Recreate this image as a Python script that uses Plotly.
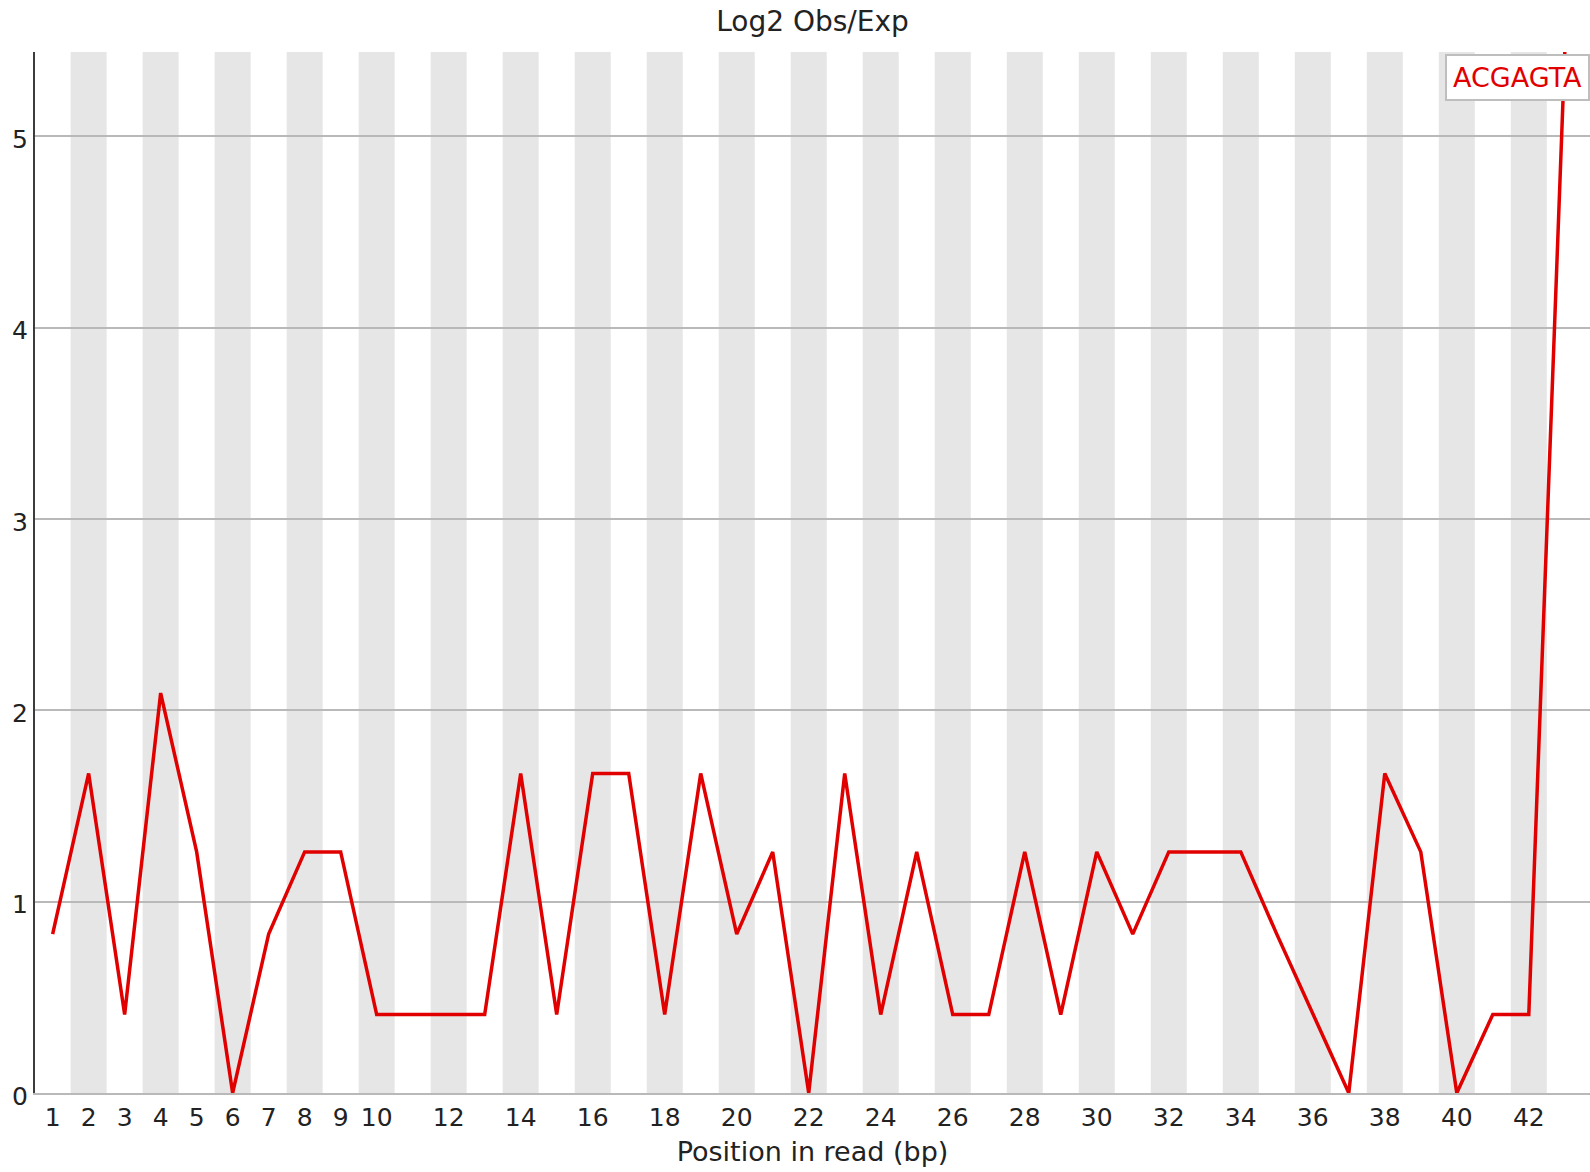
import plotly.graph_objects as go

# ---- data ----
kmer_name = "ACGAGTA"
positions = list(range(1, 44))
log2_obs_exp = [
    0.83, 1.67, 0.41, 2.09, 1.26, 0.00, 0.83, 1.26, 1.26, 0.41,
    0.41, 0.41, 0.41, 1.67, 0.41, 1.67, 1.67, 0.41, 1.67, 0.83,
    1.26, 0.00, 1.67, 0.41, 1.26, 0.41, 0.41, 1.26, 0.41, 1.26,
    0.83, 1.26, 1.26, 1.26, 0.83, 0.41, 0.00, 1.67, 1.26, 0.00,
    0.41, 0.41, 5.44,
]
x_tick_vals = [1, 2, 3, 4, 5, 6, 7, 8, 9, 10] + list(range(12, 43, 2))
x_tick_text = [str(v) for v in x_tick_vals]
y_tick_vals = [0, 1, 2, 3, 4, 5]

title_text = "Log2 Obs/Exp"
x_title = "Position in read (bp)"

FONT = "DejaVu Sans"
RED = "rgb(225,0,0)"

fig = go.Figure()
fig.add_trace(go.Scatter(
    x=positions, y=log2_obs_exp, mode="lines", name=kmer_name,
    line=dict(color=RED, width=3.5), showlegend=False, hoverinfo="skip",
))

# alternating background stripes (even positions shaded)
shapes = []
for p in positions:
    if p % 2 == 0:
        shapes.append(dict(
            type="rect", xref="x", yref="paper",
            x0=p - 0.5, x1=p + 0.5, y0=0, y1=1,
            fillcolor="rgb(230,230,230)", line=dict(width=0), layer="below",
        ))

fig.update_layout(
    width=1590, height=1172,
    margin=dict(l=35, r=0, t=52, b=79),
    paper_bgcolor="white", plot_bgcolor="white",
    font=dict(family=FONT, color="#222222"),
    shapes=shapes,
    title=dict(text=title_text, x=0.5, xref="paper", xanchor="center",
               y=1 - 21 / 1172, yref="container", yanchor="middle",
               automargin=False,
               font=dict(family=FONT, size=28, color="#222222")),
    xaxis=dict(
        range=[0.51, 43.7], tickmode="array", tickvals=x_tick_vals,
        ticktext=x_tick_text, showgrid=False, zeroline=False,
        showline=True, linecolor="rgb(185,185,185)", linewidth=2,
        ticks="", ticklabelstandoff=1, automargin=False,
        tickfont=dict(family=FONT, size=25, color="#222222"),
        title=dict(text=x_title, standoff=11,
                   font=dict(family=FONT, size=27, color="#222222")),
    ),
    yaxis=dict(
        range=[0, 5.44], tickmode="array", tickvals=y_tick_vals,
        showgrid=True, gridcolor="rgb(185,185,185)", gridwidth=2,
        zeroline=False, showline=True, linecolor="rgb(60,60,60)", linewidth=2,
        ticks="", ticklabelstandoff=0, ticklabelshift=3, automargin=False,
        tickfont=dict(family=FONT, size=25, color="#222222"),
    ),
    annotations=[dict(
        text=kmer_name, xref="paper", yref="paper", x=1, y=1,
        xanchor="right", yanchor="top", showarrow=False, yshift=-2,
        font=dict(family=FONT, size=27, color=RED),
        bgcolor="white", bordercolor="rgb(190,190,190)", borderwidth=2,
        borderpad=6,
    )],
)

fig.write_html("out.html", config={"displayModeBar": False},
               post_script="document.body.style.margin='0';")
